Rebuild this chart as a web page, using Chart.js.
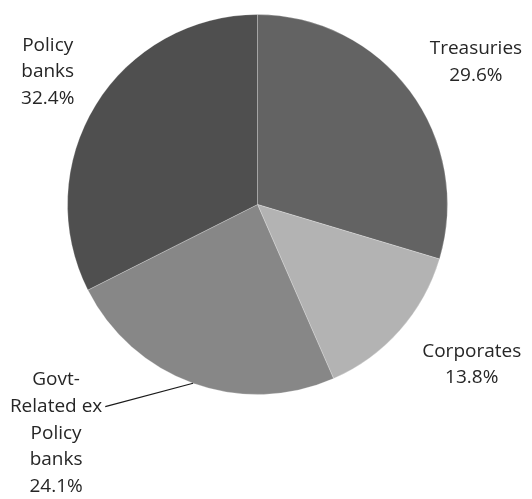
<!DOCTYPE html>
<html>
<head>
<meta charset="utf-8">
<script src="https://cdn.jsdelivr.net/npm/chart.js@4"></script>
<style>
  html, body { margin: 0; padding: 0; background: #fff; }
  #wrap { width: 532px; height: 499px; position: relative; }
</style>
</head>
<body>
<div id="wrap"><canvas id="chart"></canvas></div>
<script>
// Share of holdings by issuer type (%)
const categories = ['Treasuries', 'Corporates', 'Govt-Related ex Policy banks', 'Policy banks'];
const shares = [29.6, 13.8, 24.1, 32.4];
const labelLines = [
    ['Treasuries', '29.6%'],
    ['Corporates', '13.8%'],
    ['Govt-', 'Related ex', 'Policy', 'banks', '24.1%'],
    ['Policy', 'banks', '32.4%']
];
const sliceColors = ['#636363', '#b3b3b3', '#878787', '#4f4f4f'];

// Label block offsets from each slice's outer mid-point
const labelOffsets = [
    { dx: 66, dy: -29 },
    { dx: 72, dy: 34 },
    { dx: -137, dy: 50, leader: true },
    { dx: -48, dy: -33 }
];

const outsideLabels = {
    id: 'outsideLabels',
    afterDatasetsDraw(chart) {
        const ctx = chart.ctx;
        const meta = chart.getDatasetMeta(0);
        const lineH = 26.7;
        ctx.save();
        ctx.font = '19px "Open Sans", "Noto Sans", sans-serif';
        ctx.fillStyle = '#262626';
        ctx.textAlign = 'center';
        ctx.textBaseline = 'middle';
        meta.data.forEach((arc, i) => {
            const mid = (arc.startAngle + arc.endAngle) / 2;
            const ex = arc.x + Math.cos(mid) * arc.outerRadius;
            const ey = arc.y + Math.sin(mid) * arc.outerRadius;
            const off = labelOffsets[i];
            const lines = labelLines[i];
            const cx = ex + off.dx;
            const cy = ey + off.dy;
            const top = cy - (lines.length - 1) * lineH / 2;
            lines.forEach((t, j) => ctx.fillText(t, cx, top + j * lineH));
            if (off.leader) {
                const w = ctx.measureText(lines[1]).width;
                ctx.beginPath();
                ctx.strokeStyle = '#1a1a1a';
                ctx.lineWidth = 1.2;
                ctx.moveTo(cx + w / 2 + 3, top + lineH);
                ctx.lineTo(ex, ey);
                ctx.stroke();
            }
        });
        ctx.restore();
    }
};

new Chart(document.getElementById('chart'), {
    type: 'pie',
    data: {
        labels: categories,
        datasets: [{
            data: shares,
            backgroundColor: sliceColors,
            borderColor: 'rgba(255,255,255,0.25)',
            borderWidth: 1
        }]
    },
    options: {
        responsive: true,
        maintainAspectRatio: false,
        animation: false,
        layout: { padding: { top: 14, bottom: 104, left: 67, right: 84 } },
        plugins: {
            legend: { display: false },
            tooltip: { enabled: false }
        }
    },
    plugins: [outsideLabels]
});
</script>
</body>
</html>
